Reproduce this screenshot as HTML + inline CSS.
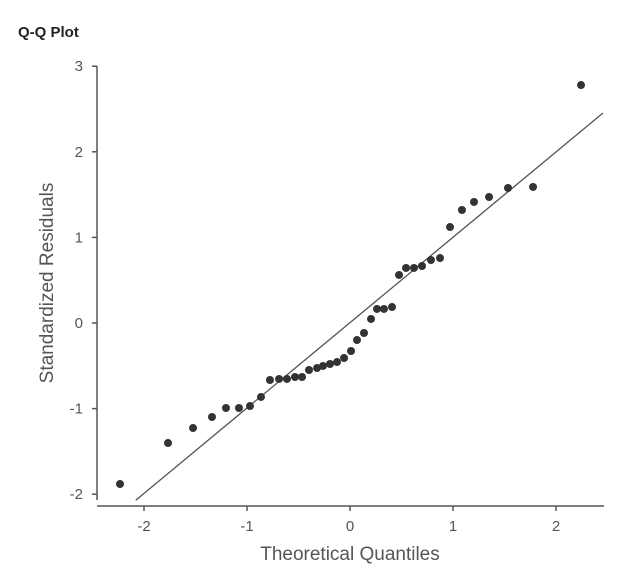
<!DOCTYPE html>
<html><head><meta charset="utf-8"><style>
body{margin:0;background:#fff;width:639px;height:576px;overflow:hidden}
svg{display:block}
text{font-family:"Liberation Sans",sans-serif}
</style></head><body>
<svg id="chart" width="639" height="576">
<text x="18" y="37" font-size="15" font-weight="bold" fill="#222">Q-Q Plot</text>
<g id="axes"></g><g id="refline"></g><g id="points"></g>
<text x="350" y="560" font-size="19" fill="#555" text-anchor="middle">Theoretical Quantiles</text>
<text transform="translate(53,283) rotate(-90)" font-size="19" fill="#555" text-anchor="middle">Standardized Residuals</text>
</svg>
<script>
const xTicks=[-2,-1,0,1,2];
const yTicks=[-2,-1,0,1,2,3];
const theoretical=[-2.233,-1.767,-1.524,-1.340,-1.204,-1.078,-0.971,-0.864,-0.777,-0.689,-0.612,-0.534,-0.466,-0.398,-0.320,-0.262,-0.194,-0.126,-0.058,0.010,0.068,0.136,0.204,0.262,0.330,0.408,0.476,0.544,0.621,0.699,0.786,0.874,0.971,1.087,1.204,1.350,1.534,1.777,2.243];
const residuals=[-1.881,-1.402,-1.227,-1.098,-0.993,-0.993,-0.970,-0.864,-0.666,-0.654,-0.654,-0.631,-0.631,-0.549,-0.526,-0.502,-0.479,-0.456,-0.409,-0.327,-0.199,-0.117,0.047,0.164,0.164,0.187,0.561,0.643,0.643,0.666,0.736,0.759,1.121,1.320,1.414,1.472,1.577,1.589,2.780];
const lineX=[-2.08,2.456];
const lineY=[-2.07,2.453];
const NS='http://www.w3.org/2000/svg';
const sx=v=>350+v*103, sy=v=>323-v*85.6;
function mk(t,a,p){const e=document.createElementNS(NS,t);for(const k in a)e.setAttribute(k,a[k]);p.appendChild(e);return e;}
const ax=document.getElementById('axes');
let l=mk('line',{x1:97,y1:66,x2:97,y2:500,stroke:'#555','stroke-width':1.5},ax);


l=mk('line',{x1:97,y1:506,x2:604,y2:506,stroke:'#555','stroke-width':1.5},ax);


yTicks.forEach(v=>{
 const t=mk('line',{x1:92,y1:sy(v),x2:97,y2:sy(v),stroke:'#555','stroke-width':1.5},ax);
 
 
 const tx=mk('text',{x:83,y:sy(v)+5,'font-size':15,fill:'#555','text-anchor':'end'},ax);
 tx.textContent=v;
 
 
});
xTicks.forEach(v=>{
 const t=mk('line',{x1:sx(v),y1:506,x2:sx(v),y2:511,stroke:'#555','stroke-width':1.5},ax);
 
 
 const tx=mk('text',{x:sx(v),y:531,'font-size':15,fill:'#555','text-anchor':'middle'},ax);
 tx.textContent=v;
 
 
});
const rl=mk('line',{x1:sx(lineX[0]),y1:sy(lineY[0]),x2:sx(lineX[1]),y2:sy(lineY[1]),stroke:'#555','stroke-width':1.3},document.getElementById('refline'));


const pg=document.getElementById('points');
theoretical.forEach((v,i)=>{
 const c=mk('circle',{cx:sx(v),cy:sy(residuals[i]),r:4,fill:'#333'},pg);
 
 
});
</script>
</body></html>
